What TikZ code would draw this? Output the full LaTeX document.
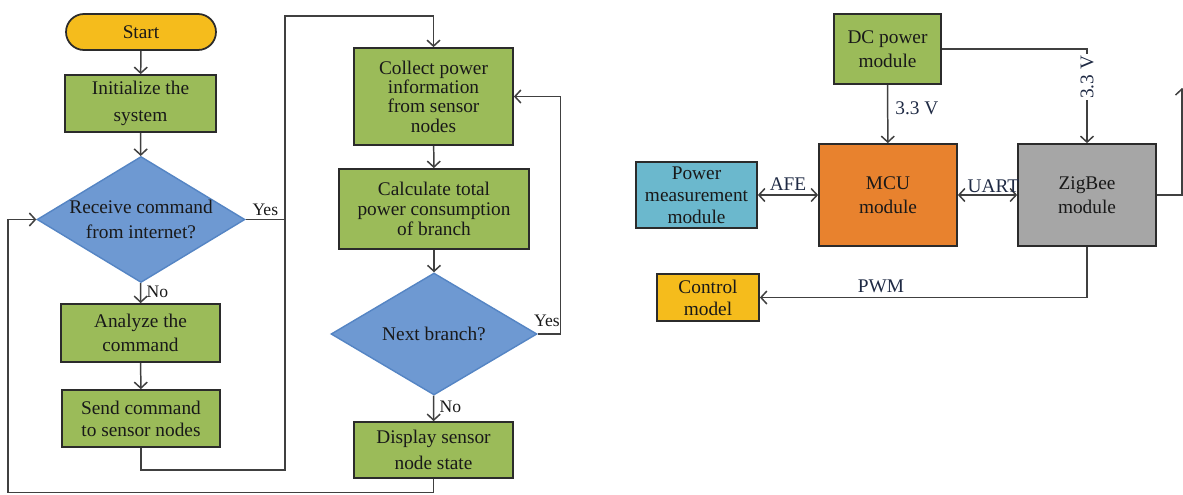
\documentclass[tikz,border=0pt]{standalone}
\usepackage{fontspec}
\setmainfont{Liberation Serif}
\usetikzlibrary{shapes.geometric, arrows.meta}

\definecolor{boxgreen}{HTML}{9BBB59}
\definecolor{boxyellow}{HTML}{F5BC1C}
\definecolor{boxblue}{HTML}{6E99D2}
\definecolor{diaedge}{HTML}{5585C4}
\definecolor{boxorange}{HTML}{E8822E}
\definecolor{boxcyan}{HTML}{6BB8CD}
\definecolor{boxgrey}{HTML}{A6A6A6}
\definecolor{wire}{HTML}{404040}
\definecolor{boxline}{HTML}{2B2B2B}
\definecolor{labnavy}{HTML}{1F2A44}

\tikzset{
	box/.style={draw=boxline, line width=1pt, fill=boxgreen, align=center, inner sep=1pt, text=black!90, font=\fontsize{11}{13.5}\selectfont},
	terminal/.style={box, fill=boxyellow, rounded corners=0.36cm},
	decision/.style={diamond, draw=diaedge, line width=0.8pt, fill=boxblue, align=center, inner sep=0pt, aspect=1.65, text=black!90, font=\fontsize{11}{14.5}\selectfont},
	wirelab/.style={text=labnavy, font=\fontsize{11}{13}\selectfont, inner sep=2pt},
}

\begin{document}
\begin{tikzpicture}[x=0.02cm, y=-0.02cm, >={Straight Barb[length=1.2mm,width=2.6mm]}, line width=0.85pt]
			\useasboundingbox (0,0) rectangle (1183,494);
			
			\begin{scope}
			% flow chart
			\node[terminal, minimum width=3cm, minimum height=0.72cm] (start) at (141,32) {Start};
			\node[box, minimum width=3.02cm, minimum height=1.14cm, font=\fontsize{11}{15}\selectfont] (init) at (140.5,103.5) {Initialize the\\system};
			\node[decision, minimum width=4.12cm, minimum height=2.46cm] (recv) at (141,219.5) {Receive command\\from internet?};
			\node[box, minimum width=3.18cm, minimum height=1.16cm] (analyze) at (140.5,333) {Analyze the\\command};
			\node[box, minimum width=3.16cm, minimum height=1.14cm, font=\fontsize{11}{12.5}\selectfont] (send) at (141,418.5) {Send command\\to sensor nodes};
			
			\node[box, minimum width=3.18cm, minimum height=1.94cm, font=\fontsize{11}{11}\selectfont] (collect) at (433.5,96.5) {Collect power\\information\\from sensor\\nodes};
			\node[box, minimum width=3.8cm, minimum height=1.6cm, font=\fontsize{11}{11.5}\selectfont] (calc) at (434,209) {Calculate total\\power consumption\\of branch};
			\node[decision, minimum width=4.12cm, minimum height=2.44cm] (next) at (434,334) {Next branch?};
			\node[box, minimum width=3.18cm, minimum height=1.12cm, font=\fontsize{11}{14.5}\selectfont] (display) at (433.5,450) {Display sensor\\node state};
			
			\coordinate (jointop) at (285,16);
			\coordinate (joinbot) at (285,470);
			\coordinate (loopbot) at (8,492.5);
			
			\draw[wire, ->] (start) -- (init);
			\draw[wire, ->] (init) -- (recv);
			\draw[wire, ->] (recv) -- node[right, pos=0.42, text=black!90, inner sep=3pt]{No} (analyze); % da recv a analyze
			\draw[wire, ->] (analyze) -- (send);
			\draw[wire, ->] (send.south) |- (joinbot) -- (jointop) -| (collect.north); % da send a collect
			\draw[wire] (recv.east) -- node[above, text=black!90, inner sep=2pt]{Yes} (recv.east -| jointop);
			
			\draw[wire, ->] (collect) -- (calc);
			\draw[wire, ->] (calc) -- (next);
			\draw[wire, ->] (next) -- node[right, pos=0.45, text=black!90, inner sep=3pt]{No} (display);
			\draw[wire, ->] (next.east) -- node[above, pos=0.4, text=black!90, inner sep=4pt]{Yes} ++(23,0) |- (collect.east); % da next a collect
			\draw[wire, ->] (display.south) |- (loopbot) |- (recv.west); % da display a recv
			\end{scope}
			
			\begin{scope}
			% block diagram
			\node[box, minimum width=2.14cm, minimum height=1.4cm] (dcpower) at (887.5,49) {DC power\\module};
			\node[box, fill=boxorange, minimum width=2.76cm, minimum height=2.04cm] (mcu) at (888,195) {MCU\\module};
			\node[box, fill=boxgrey, minimum width=2.76cm, minimum height=2.04cm] (zigbee) at (1087,195) {ZigBee\\module};
			\node[box, fill=boxcyan, minimum width=2.42cm, minimum height=1.32cm, font=\fontsize{11}{12.5}\selectfont] (pmeas) at (696.5,195) {Power\\measurement\\module};
			\node[box, fill=boxyellow, minimum width=2.04cm, minimum height=0.94cm, font=\fontsize{11}{12.5}\selectfont] (control) at (708,297.5) {Control\\model};
			
			\coordinate (zbout) at (1182,88);
			
			\draw[wire, ->] (dcpower) -- node[wirelab, right, pos=0.4, inner sep=4pt]{3.3 V} (mcu);
			\draw[wire, ->] (dcpower.east) -| node[wirelab, pos=0.65, rotate=90, fill=white, inner sep=1pt]{3.3 V} (zigbee.north); % da dcpower a zigbee
			\draw[wire, <->] (pmeas) -- node[wirelab, above]{AFE} (mcu);
			\draw[wire, <->] (mcu) -- node[wirelab, above, pos=0.6, inner sep=1pt]{UART} (zigbee);
			\draw[wire, ->] (zigbee.east) -| (zbout);
			\draw[wire, ->] (zigbee.south) |- node[wirelab, above, pos=0.815]{PWM} (control.east); % da zigbee a control
			\end{scope}
\end{tikzpicture}
\end{document}
